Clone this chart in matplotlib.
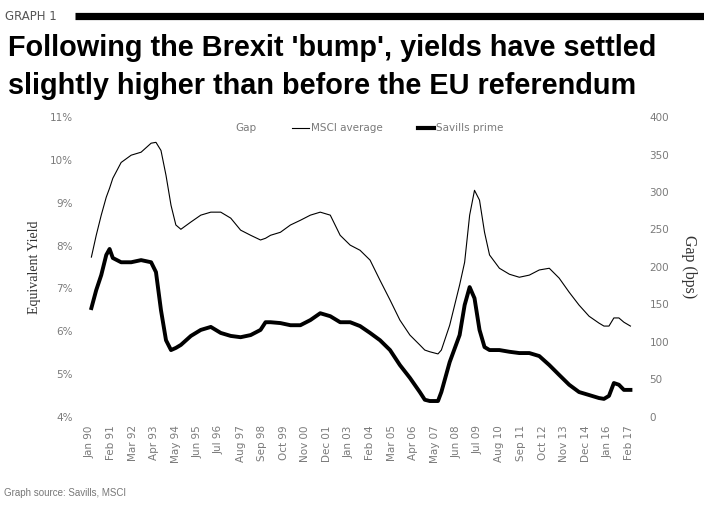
import matplotlib
matplotlib.use("Agg")
import matplotlib.pyplot as plt
from matplotlib.lines import Line2D
import pandas as pd

dates = ["1990-02", "1990-05", "1990-08", "1990-11", "1991-01", "1991-03", "1991-08",
         "1992-02", "1992-08", "1993-02", "1993-05", "1993-08", "1993-11", "1994-02",
         "1994-05", "1994-08", "1995-02", "1995-08", "1996-02", "1996-08", "1997-02",
         "1997-08", "1998-02", "1998-08", "1998-11", "1999-02", "1999-08", "2000-02",
         "2000-08", "2001-02", "2001-08", "2002-02", "2002-08", "2003-02", "2003-08",
         "2004-02", "2004-08", "2005-02", "2005-08", "2006-02", "2006-08", "2006-11",
         "2007-02", "2007-07", "2007-09", "2008-02", "2008-08", "2008-11", "2009-02",
         "2009-05", "2009-08", "2009-11", "2010-02", "2010-08", "2011-02", "2011-08",
         "2012-02", "2012-08", "2013-02", "2013-08", "2014-02", "2014-08", "2015-02",
         "2015-08", "2015-11", "2016-02", "2016-05", "2016-08", "2016-11", "2017-03"]

msci_average = [7.73, 8.24, 8.71, 9.13, 9.34, 9.57, 9.94, 10.11, 10.18, 10.39, 10.41,
                10.22, 9.64, 8.94, 8.48, 8.38, 8.55, 8.71, 8.78, 8.78, 8.64, 8.36, 8.24,
                8.13, 8.17, 8.24, 8.31, 8.48, 8.59, 8.71, 8.78, 8.71, 8.24, 8.01, 7.89,
                7.66, 7.19, 6.73, 6.26, 5.91, 5.68, 5.56, 5.52, 5.47, 5.56, 6.14, 7.08,
                7.61, 8.71, 9.29, 9.06, 8.31, 7.78, 7.47, 7.33, 7.26, 7.31, 7.43, 7.47,
                7.24, 6.91, 6.61, 6.35, 6.19, 6.12, 6.12, 6.31, 6.31, 6.21, 6.12]

savills_prime = [6.54, 6.96, 7.31, 7.78, 7.92, 7.71, 7.61, 7.61, 7.66, 7.61, 7.38,
                 6.49, 5.79, 5.56, 5.61, 5.68, 5.89, 6.03, 6.10, 5.96, 5.89, 5.86, 5.91,
                 6.03, 6.21, 6.21, 6.19, 6.14, 6.14, 6.26, 6.42, 6.35, 6.21, 6.21, 6.12,
                 5.96, 5.79, 5.56, 5.21, 4.91, 4.58, 4.40, 4.37, 4.37, 4.58, 5.28, 5.91,
                 6.61, 7.03, 6.77, 6.03, 5.63, 5.56, 5.56, 5.52, 5.49, 5.49, 5.42, 5.21,
                 4.98, 4.75, 4.58, 4.51, 4.44, 4.42, 4.49, 4.79, 4.75, 4.63, 4.63]

left_ticks = [4, 5, 6, 7, 8, 9, 10, 11]
right_ticks = [0, 50, 100, 150, 200, 250, 300, 350, 400]
series_names = ["Gap", "MSCI average", "Savills prime"]

x = pd.to_datetime(dates)
tick_dates = pd.date_range("1990-01-01", periods=26, freq="13MS")
tick_labels = [d.strftime("%b %y") for d in tick_dates]

TICK_COLOR = "#7a7a7a"

fig = plt.figure(figsize=(7.04, 5.09), dpi=100)
ax = fig.add_axes([0.125, 0.181, 0.774, 0.589])
ax2 = ax.twinx()

ax.plot(x, msci_average, color="black", lw=0.8)
ax.plot(x, savills_prime, color="black", lw=2.8)

ax.set_ylim(4, 11)
ax2.set_ylim(0, 400)
ax.set_xlim(pd.Timestamp("1989-12-01"), pd.Timestamp("2017-04-15"))

ax.set_yticks(left_ticks)
ax.set_yticklabels([f"{v}%" for v in left_ticks])
ax2.set_yticks(right_ticks)
ax2.set_yticklabels([str(v) for v in right_ticks])
ax.set_xticks(tick_dates)
ax.set_xticklabels(tick_labels, rotation=90)

for a in (ax, ax2):
    for s in a.spines.values():
        s.set_visible(False)
    a.tick_params(length=0, labelsize=7.5, colors=TICK_COLOR)
ax.tick_params(axis="y", pad=11)
ax2.tick_params(axis="y", pad=12)
ax.tick_params(axis="x", pad=6)

ax.set_ylabel("Equivalent Yield", family="Liberation Serif", fontsize=10, color="#333333", labelpad=6)
ax2.set_ylabel("Gap (bps)", family="Liberation Serif", fontsize=11.5, color="#333333",
               rotation=270, labelpad=20)

handles = [Line2D([], [], color="white", lw=0),
           Line2D([], [], color="black", lw=0.8),
           Line2D([], [], color="black", lw=3)]
leg = ax.legend(handles, series_names, loc="upper center",
                bbox_to_anchor=(0.5, 1.01), ncol=3, frameon=False, fontsize=7.5,
                handlelength=1.6, handletextpad=0.15, columnspacing=3.4)
for t in leg.get_texts():
    t.set_color(TICK_COLOR)

fig.text(0.007, 0.968, "GRAPH 1", fontsize=8.5, color="#555555", va="center", ha="left",
         family="Liberation Sans Narrow")
fig.add_artist(Line2D([0.106, 1.0], [0.968, 0.968], color="black", lw=5.2,
                      transform=fig.transFigure, solid_capstyle="butt"))
fig.text(0.011, 1 - 56 / 509, "Following the Brexit 'bump', yields have settled",
         fontsize=20.8, fontweight="bold", family="Liberation Sans", va="baseline", ha="left")
fig.text(0.011, 1 - 94 / 509, "slightly higher than before the EU referendum",
         fontsize=20.8, fontweight="bold", family="Liberation Sans", va="baseline", ha="left")
fig.text(0.006, 1 - 493 / 509, "Graph source: Savills, MSCI", fontsize=7, color="#777777",
         family="Liberation Sans", va="center", ha="left")

fig.savefig("out.png", dpi=100)
